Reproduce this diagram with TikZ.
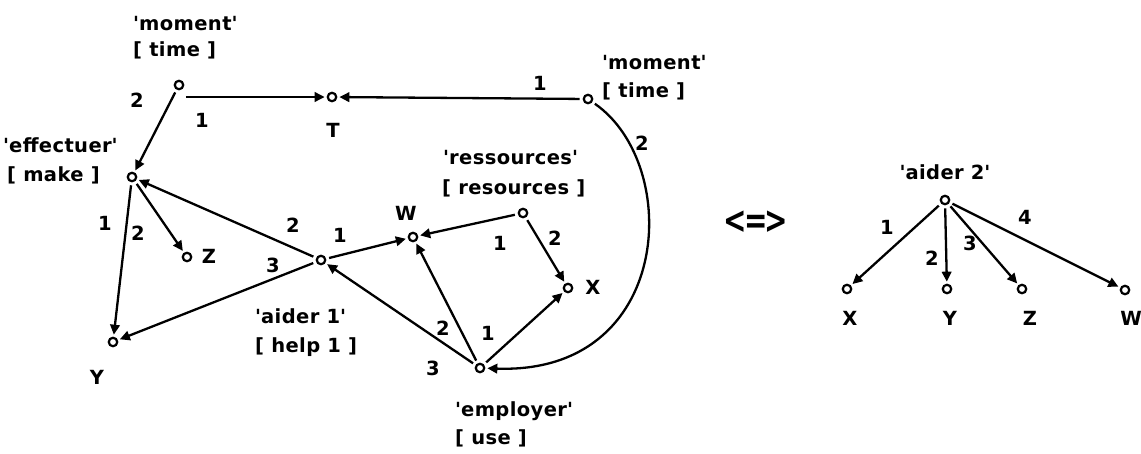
\documentclass[tikz,border=0pt]{standalone}
\usepackage{fontspec}
\usepackage{graphicx}
\setmainfont{DejaVu Sans Bold}[LetterSpace=2]
\usetikzlibrary{arrows.meta}
\newcommand{\sq}{\textquotesingle}
\begin{document}
\begin{tikzpicture}[x=1pt,y=-1pt,
  every node/.style={font=\fontsize{19.5}{22}\selectfont, inner sep=0pt},
  dot/.style={circle, draw, line width=2.2pt, minimum size=8.5pt, inner sep=0pt},
  lbl/.style={anchor=west},
  conn/.style={line width=2.3pt, -{Triangle[length=10pt,width=9.5pt]}, shorten >=2pt, shorten <=3pt}]
\useasboundingbox (0,0) rectangle (1141,453);
% nodes (left graph)
\node[dot] (m1) at (179,85) {};
\node[dot] (T)  at (332,97) {};
\node[dot] (m2) at (588,99) {};
\node[dot] (ef) at (132,177) {};
\node[dot] (Z)  at (187,257) {};
\node[dot] (a1) at (321,260) {};
\node[dot] (W)  at (413,237) {};
\node[dot] (rs) at (523,213) {};
\node[dot] (X)  at (568,288) {};
\node[dot] (Y)  at (113,342) {};
\node[dot] (em) at (480,368) {};
% right graph
\node[dot] (a2) at (945,200) {};
\node[dot] (X2) at (847,289) {};
\node[dot] (Y2) at (947,289) {};
\node[dot] (Z2) at (1022,289) {};
\node[dot] (W2) at (1125,290) {};
% texts
\node[lbl] (tm1a) at (133,24) {\sq moment\sq};
\node[lbl] (tm1b) at (133,50) {[ time ]};
\node[lbl] (tm2a) at (602,63) {\sq moment\sq};
\node[lbl] (tm2b) at (602,91) {[ time ]};
\node[lbl] (tefa) at (3,145) {\sq effectuer\sq};
\node[lbl] (tefb) at (7,175) {[ make ]};
\node (tT) at (333,130) {T};
\node (tZ) at (209,256) {Z};
\node (tW) at (406,213) {W};
\node[lbl] (trsa) at (443,158) {\sq ressources\sq};
\node[lbl] (trsb) at (442,188) {[ resources ]};
\node (tX) at (593,287) {X};
\node[lbl] (ta1a) at (255,316) {\sq aider 1\sq};
\node[lbl] (ta1b) at (255,347) {[ help 1 ]};
\node (tY) at (97,377) {Y};
\node[lbl] (tema) at (455,411) {\sq employer\sq};
\node[lbl] (temb) at (455,438) {[ use ]};
\node (ta2) at (945,172) {\sq aider 2\sq};
\node (tX2) at (850,318) {X};
\node (tY2) at (950,318) {Y};
\node (tZ2) at (1030,318) {Z};
\node (tW2) at (1131,318) {W};
\node (eqv) at (756,222) {\scalebox{1}[1.35]{\fontsize{28}{28}\selectfont\textless\kern-3pt=\kern-3pt\textgreater}};
% edge numbers
\node (n1) at (137,100) {2};
\node (n2) at (202,120) {1};
\node (n3) at (540,83) {1};
\node (n4) at (642,143) {2};
\node (n5) at (105,223) {1};
\node (n6) at (138,233) {2};
\node (n7) at (293,225) {2};
\node (n8) at (340,235) {1};
\node (n9) at (273,265) {3};
\node (n10) at (500,243) {1};
\node (n11) at (555,238) {2};
\node (n12) at (443,328) {2};
\node (n13) at (488,333) {1};
\node (n14) at (433,368) {3};
\node (n15) at (887,227) {1};
\node (n16) at (932,258) {2};
\node (n17) at (970,243) {3};
\node (n18) at (1025,217) {4};
% connectors
\draw[conn] (m1) -- (ef);
\draw[conn] (m1.south east |- T.west) -- (T.west);
\draw[conn] (m2) -- (T);
\draw[conn] (m2) .. controls (683,165) and (673,375) .. (em);
\draw[conn] (ef) -- (Y);
\draw[conn] (ef) -- (Z);
\draw[conn] (a1) -- (ef);
\draw[conn] (a1) -- (W);
\draw[conn] (a1) -- (Y);
\draw[conn] (rs) -- (W);
\draw[conn] (rs) -- (X);
\draw[conn] (em) -- (a1);
\draw[conn] (em) -- (W);
\draw[conn] (em) -- (X);
\draw[conn] (a2) -- (X2);
\draw[conn] (a2) -- (Y2);
\draw[conn] (a2) -- (Z2);
\draw[conn] (a2) -- (W2);
\end{tikzpicture}
\end{document}
